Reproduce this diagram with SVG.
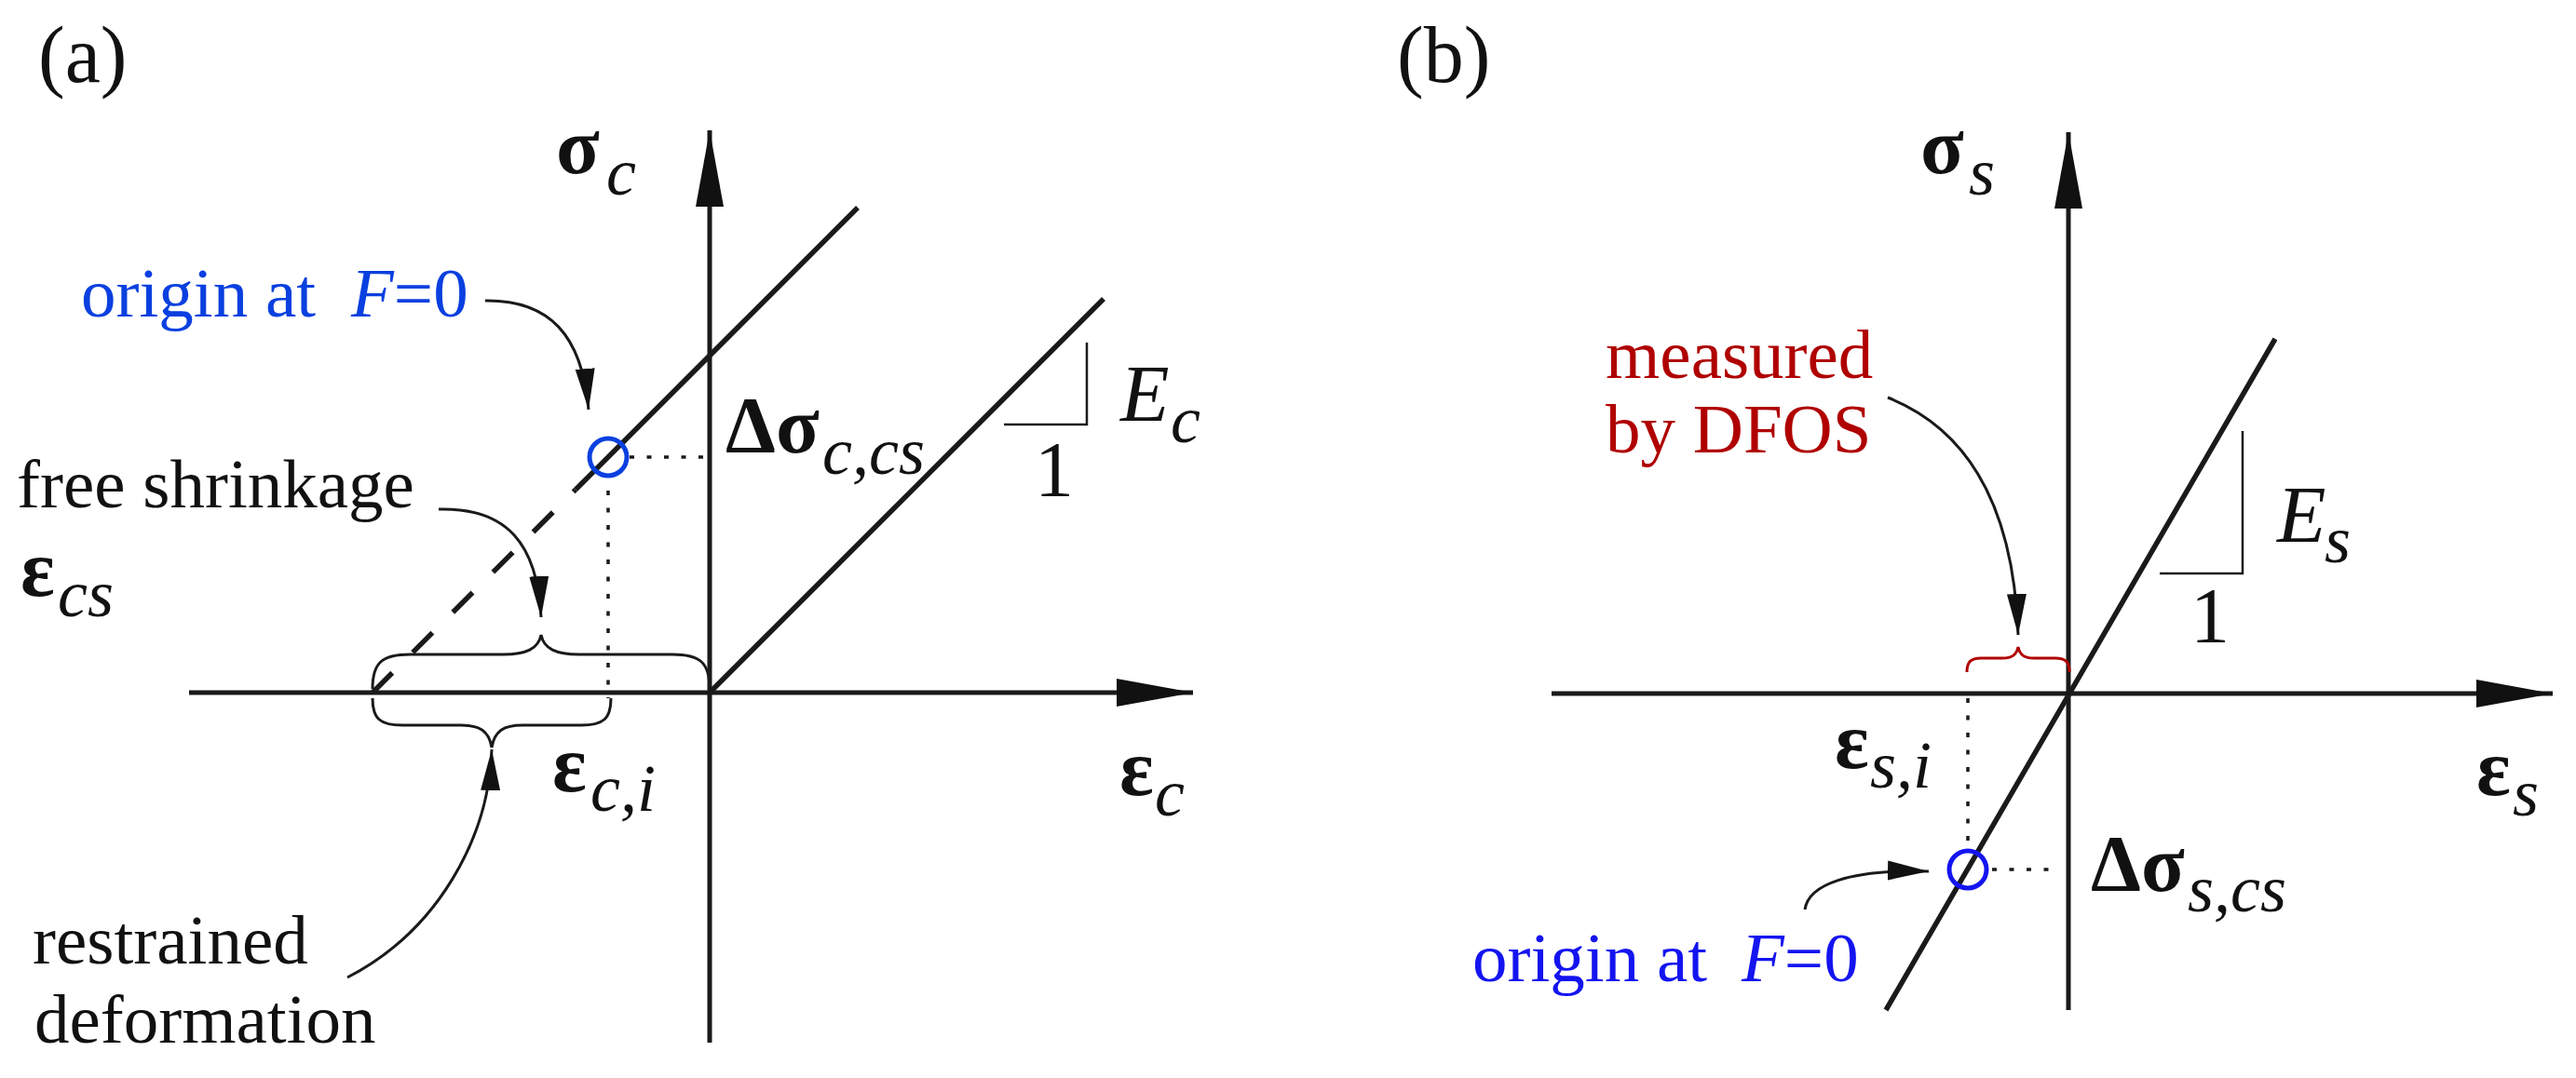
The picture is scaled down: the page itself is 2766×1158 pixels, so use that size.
<svg xmlns="http://www.w3.org/2000/svg" width="2766" height="1158" viewBox="0 0 2766 1158">
<defs>
<style>
text{font-family:"Liberation Serif","Times New Roman",serif;fill:#111}
.lab{font-size:75px}
.sym{font-size:86px}
.g{font-weight:bold}
.sub{font-size:72px;font-style:italic;font-weight:normal}
.it{font-style:italic}
.axis{stroke:#1a1a1a;stroke-width:5;fill:none}
.curve{stroke:#1a1a1a;stroke-width:5.5;fill:none}
.thin{stroke:#1a1a1a;stroke-width:2.5;fill:none}
.dot{stroke:#1a1a1a;stroke-width:3.5;fill:none;stroke-dasharray:5 13.5}
.brace{stroke:#1a1a1a;stroke-width:3;fill:none}
.ptr{stroke:#1a1a1a;stroke-width:3;fill:none}
</style>
<marker id="big" markerUnits="userSpaceOnUse" markerWidth="84" markerHeight="32" refX="82" refY="15" orient="auto" viewBox="0 0 84 32">
<path d="M0,0 L82,15 L0,30 Z" fill="#111"/>
</marker>
<marker id="ah" markerUnits="userSpaceOnUse" markerWidth="46" markerHeight="22" refX="44" refY="10.5" orient="auto" viewBox="0 0 46 22">
<path d="M0,0 L44,10.5 L0,21 Z" fill="#111"/>
</marker>
</defs>
<rect width="2766" height="1158" fill="#fff"/>

<g id="panel-a">
<text id="label-a" x="41" y="88" style="font-size:86px">(a)</text>
<g id="connectors-a">
<line class="axis" x1="762" y1="1120" x2="762" y2="140" marker-end="url(#big)"/>
<line class="axis" x1="203" y1="744" x2="1281" y2="744" marker-end="url(#big)"/>
<line class="curve" x1="762" y1="744" x2="1185" y2="321"/>
<line class="curve" x1="618" y1="526" x2="921" y2="223"/>
<line class="curve" x1="400" y1="744" x2="618" y2="526" style="stroke-dasharray:30 31"/>
<line class="dot" x1="676" y1="491" x2="756" y2="491"/>
<line class="dot" x1="653" y1="527" x2="653" y2="750"/>
<polyline class="thin" points="1167,368 1167,456 1078,456"/>
<path class="brace" d="M400 740 C400 712,410 703,440 703 L540 703 C565 703,578 697,581 682 C584 697,597 703,622 703 L722 703 C752 703,762 712,762 740"/>
<path class="brace" d="M400 750 C400 772,408 779,432 779 L495 779 C515 779,525 785,528 803 C531 785,541 779,561 779 L624 779 C648 779,656 772,656 750"/>
<path class="ptr" d="M521 323 C590 322,625 360,632 440" marker-end="url(#ah)"/>
<path class="ptr" d="M471 547 C545 545,577 585,581 663" marker-end="url(#ah)"/>
<path class="ptr" d="M373 1050 C470 1000,525 900,528 805" marker-end="url(#ah)"/>
</g>
<circle id="origin-a" cx="653" cy="491" r="20" fill="none" stroke="#0a40e0" stroke-width="5"/>
<g id="sigma-c"><text class="sym g" x="597" y="186">σ<tspan class="sub" x="651" y="209">c</tspan></text></g>
<g id="origin-label-a"><text class="lab" x="87" y="340" style="fill:#0a40e0">origin at<tspan class="it" x="377" style="fill:#0a40e0">F</tspan>=0</text></g>
<g id="dsigma-c"><text class="sym g" x="779" y="486">Δσ<tspan class="sub" x="883" y="509">c,cs</tspan></text></g>
<g id="Ec"><text class="sym it" x="1203" y="452">E<tspan class="sub" x="1257" y="475">c</tspan></text></g>
<g id="one-a"><text class="sym" x="1111" y="533" style="font-size:84px">1</text></g>
<g id="free-shrinkage"><text class="lab" x="18" y="545">free shrinkage</text></g>
<g id="eps-cs"><text class="sym g" x="22" y="640">ε<tspan class="sub" x="62" y="662">cs</tspan></text></g>
<g id="eps-ci"><text class="sym g" x="593" y="850">ε<tspan class="sub" x="634" y="871">c,i</tspan></text></g>
<g id="eps-c"><text class="sym g" x="1202" y="854">ε<tspan class="sub" x="1240" y="876">c</tspan></text></g>
<g id="restrained"><text class="lab" x="35" y="1035">restrained</text><text class="lab" x="37" y="1120">deformation</text></g>
</g>

<g id="panel-b">
<text id="label-b" x="1500" y="88" style="font-size:86px">(b)</text>
<g id="connectors-b">
<line class="axis" x1="2221" y1="1085" x2="2221" y2="142" marker-end="url(#big)"/>
<line class="axis" x1="1666" y1="745" x2="2741" y2="745" marker-end="url(#big)"/>
<line class="curve" x1="2025" y1="1085" x2="2443" y2="364"/>
<line class="dot" x1="2113" y1="750" x2="2113" y2="912"/>
<line class="dot" x1="2139" y1="934" x2="2212" y2="934"/>
<polyline class="thin" points="2408,463 2408,616 2319,616"/>
<path class="brace" style="stroke:#b00000" d="M2112 722 C2112 711,2116 707,2127 707 L2150 707 C2160 707,2165 704,2167 695 C2169 704,2174 707,2184 707 L2207 707 C2218 707,2222 711,2222 722"/>
<path class="ptr" d="M2027 427 C2110 460,2162 540,2167 682" marker-end="url(#ah)"/>
<path class="ptr" d="M1938 977 C1942 950,1985 934,2071 936" marker-end="url(#ah)"/>
</g>
<circle id="origin-b" cx="2113" cy="934" r="20" fill="none" stroke="#1414f0" stroke-width="5"/>
<g id="sigma-s"><text class="sym g" x="2062" y="186">σ<tspan class="sub" x="2114" y="209">s</tspan></text></g>
<g id="measured"><text class="lab" x="1724" y="406" style="fill:#b00000">measured</text><text class="lab" x="1724" y="486" style="fill:#b00000">by DFOS</text></g>
<g id="Es"><text class="sym it" x="2445" y="582">E<tspan class="sub" x="2496" y="604">s</tspan></text></g>
<g id="one-b"><text class="sym" x="2352" y="690" style="font-size:84px">1</text></g>
<g id="eps-si"><text class="sym g" x="1970" y="825">ε<tspan class="sub" x="2008" y="846">s,i</tspan></text></g>
<g id="eps-s"><text class="sym g" x="2659" y="854">ε<tspan class="sub" x="2698" y="876">s</tspan></text></g>
<g id="dsigma-s"><text class="sym g" x="2245" y="957">Δσ<tspan class="sub" x="2349" y="979">s,cs</tspan></text></g>
<g id="origin-label-b"><text class="lab" x="1581" y="1054" style="fill:#1414f0">origin at<tspan class="it" x="1870" style="fill:#1414f0">F</tspan>=0</text></g>
</g>
</svg>
